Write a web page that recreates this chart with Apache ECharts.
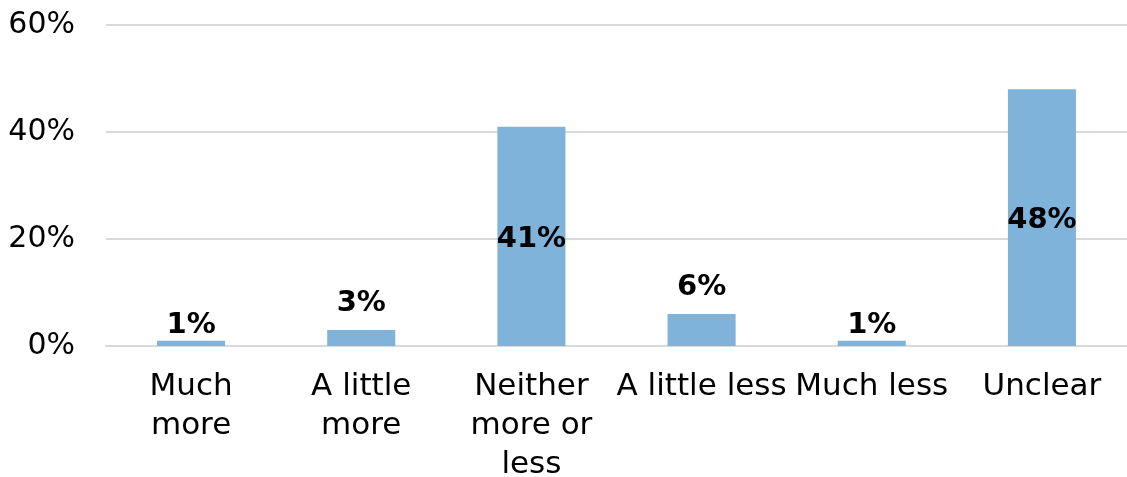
<!DOCTYPE html>
<html>
<head>
<meta charset="utf-8">
<style>
html,body{margin:0;padding:0;background:#fff;overflow:hidden;}
#chart{width:1127px;height:477px;}
</style>
<script src="https://cdn.jsdelivr.net/npm/echarts@6/dist/echarts.min.js"></script>
</head>
<body>
<div id="chart"></div>
<script>
const categories = ["Much\nmore", "A little\nmore", "Neither\nmore or\nless", "A little less", "Much less", "Unclear"];
const values = [1, 3, 41, 6, 1, 48];
const labelPositions = ["top", "top", "inside", "top", "top", "inside"];
const labelDistances = [1, 12, 0, 12, 1, 0];
const yTicks = { min: 0, max: 60, interval: 20 };

const FONT = "'DejaVu Sans', sans-serif";
const chart = echarts.init(document.getElementById('chart'), null, { renderer: 'canvas' });
chart.setOption({
  backgroundColor: '#ffffff',
  animation: false,
  grid: { left: 106, right: 0, top: 25, height: 321, containLabel: false, outerBoundsMode: 'none' },
  xAxis: {
    type: 'category',
    data: categories,
    axisLine: { show: true, lineStyle: { color: '#d9d9d9', width: 2 } },
    axisTick: { show: false },
    axisLabel: {
      interval: 0, color: '#000', fontFamily: FONT, fontSize: 31,
      lineHeight: 39, margin: 21, verticalAlign: 'top'
    }
  },
  yAxis: {
    type: 'value',
    min: yTicks.min, max: yTicks.max, interval: yTicks.interval,
    axisLine: { show: false },
    axisTick: { show: false },
    splitLine: { lineStyle: { color: '#d9d9d9', width: 2 } },
    axisLabel: {
      formatter: v => v + '%', color: '#000', fontFamily: FONT, fontSize: 30, margin: 31
    }
  },
  series: [{
    type: 'bar',
    barWidth: '40%',
    data: values.map((v, i) => ({
      value: v,
      label: labelPositions[i] === 'inside'
        ? { position: 'inside', offset: [0, 3] }
        : { position: 'top', distance: labelDistances[i] }
    })),
    itemStyle: { color: '#7fb3da' },
    label: {
      show: true, formatter: p => p.value + '%', color: '#000',
      fontFamily: FONT, fontSize: 29, fontWeight: 'bold'
    }
  }]
});
</script>
</body>
</html>
